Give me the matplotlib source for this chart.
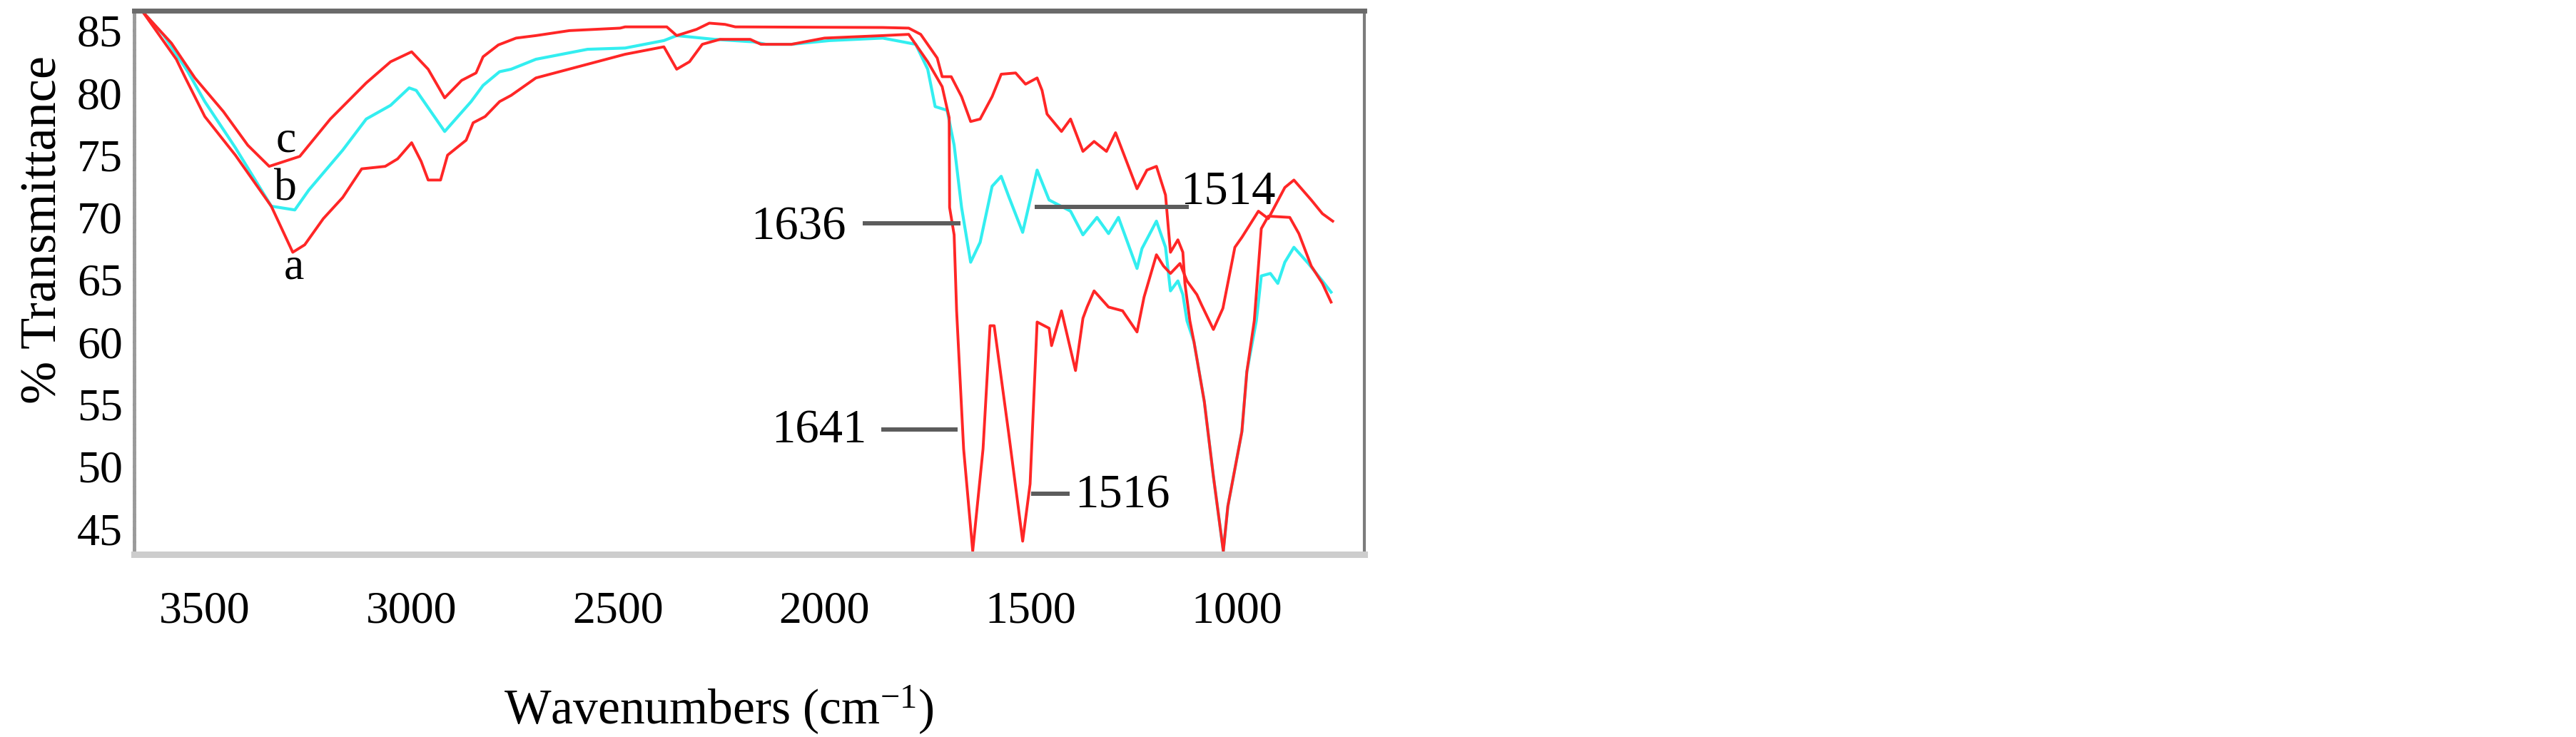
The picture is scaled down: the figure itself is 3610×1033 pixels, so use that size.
import matplotlib
matplotlib.use("Agg")
import matplotlib.pyplot as plt
from matplotlib.ticker import MultipleLocator

# FT-IR spectra, values
# curve a (red, lowest around 3300)
wn_a = [3650, 3569, 3547, 3500, 3426, 3339, 3287, 3258, 3213, 3166, 3120, 3063, 3033,
        2999, 2976, 2959, 2929, 2912, 2867, 2850, 2821, 2786, 2758, 2698, 2573, 2482,
        2388, 2357, 2326, 2295, 2252, 2179, 2153, 2079, 1999, 1858, 1795, 1749, 1714,
        1697, 1696, 1685, 1679, 1662, 1640, 1615, 1598, 1588, 1553, 1519, 1501, 1484,
        1455, 1449, 1425, 1391, 1373, 1363, 1346, 1311, 1277, 1242, 1225, 1195, 1178,
        1161, 1138, 1121, 1097, 1086, 1057, 1034, 1005, 988, 948, 924, 884, 862, 820,
        793, 768]
t_a = [86.5, 82.7, 81.2, 78.1, 75.0, 70.9, 67.2, 67.8, 69.9, 71.6, 73.9, 74.1, 74.7,
       76.0, 74.5, 73.0, 73.0, 75.0, 76.2, 77.6, 78.1, 79.3, 79.8, 81.2, 82.3, 83.1,
       83.7, 81.9, 82.5, 83.9, 84.3, 84.3, 83.9, 83.9, 84.4, 84.6, 84.7, 82.5, 80.5,
       78.0, 70.8, 68.6, 62.5, 51.4, 43.2, 51.4, 61.3, 61.3, 52.7, 44.0, 48.6, 61.6,
       61.1, 59.7, 62.5, 57.7, 61.9, 62.8, 64.1, 62.8, 62.5, 60.8, 63.6, 67.0, 66.1,
       65.5, 66.3, 64.9, 63.8, 63.0, 61.0, 62.7, 67.6, 68.4, 70.5, 69.9, 72.4, 73.0, 71.4,
       70.3, 69.7]

# curve b (cyan)
wn_b = [3650, 3599, 3541, 3500, 3426, 3339, 3282, 3248, 3166, 3109, 3050, 3005, 2988,
        2919, 2855, 2826, 2786, 2758, 2698, 2573, 2482, 2388, 2357, 2266, 2172, 2141,
        2079, 1987, 1858, 1778, 1749, 1731, 1702, 1685, 1667, 1645, 1622, 1593, 1571,
        1553, 1519, 1484, 1455, 1403, 1373, 1339, 1311, 1287, 1242, 1230, 1195, 1173,
        1161, 1143, 1131, 1121, 1104, 1079, 1057, 1033, 1022, 988, 976, 953, 941, 919,
        901, 884, 862, 827, 793, 772]
t_b = [86.5, 84.6, 81.7, 79.3, 75.6, 70.9, 70.6, 72.2, 75.4, 77.9, 79.0, 80.4, 80.2,
       76.9, 79.3, 80.6, 81.7, 81.9, 82.7, 83.5, 83.6, 84.2, 84.6, 84.3, 84.1, 83.9,
       83.9, 84.2, 84.4, 83.9, 81.9, 78.9, 78.6, 75.8, 70.8, 66.4, 68.0, 72.5, 73.3,
       71.7, 68.8, 73.8, 71.4, 70.5, 68.6, 70.0, 68.7, 70.0, 65.9, 67.5, 69.7, 67.6,
       64.1, 64.9, 63.8, 61.7, 60.0, 55.2, 49.2, 43.2, 46.8, 52.8, 57.6, 61.7, 65.3, 65.5,
       64.7, 66.4, 67.6, 66.3, 64.9, 64.0]

# curve c (red, uppermost around 3300)
wn_c = [3650, 3581, 3524, 3455, 3396, 3344, 3270, 3196, 3109, 3050, 2999, 2959, 2919,
        2878, 2843, 2826, 2789, 2746, 2698, 2617, 2494, 2482, 2381, 2357, 2309, 2278,
        2240, 2215, 1858, 1795, 1766, 1726, 1714, 1692, 1667, 1645, 1622, 1593, 1571,
        1536, 1512, 1484, 1472, 1460, 1425, 1403, 1373, 1346, 1316, 1294, 1242, 1218,
        1195, 1173, 1166, 1161, 1143, 1131, 1126, 1114, 1104, 1079, 1057, 1033, 1022,
        988, 976, 958, 941, 924, 872, 850, 820, 793, 772]
t_c = [86.5, 84.0, 81.2, 78.5, 75.8, 74.1, 74.9, 77.9, 80.8, 82.5, 83.3, 81.9, 79.6,
       81.0, 81.6, 82.9, 83.85, 84.4, 84.6, 85.0, 85.2, 85.3, 85.3, 84.6, 85.1, 85.6,
       85.5, 85.3, 85.25, 85.2, 84.7, 82.8, 81.3, 81.3, 79.7, 77.7, 77.9, 79.7, 81.5,
       81.6, 80.7, 81.2, 80.2, 78.3, 76.9, 77.9, 75.3, 76.1, 75.3, 76.8, 72.3, 73.8,
       74.1, 71.8, 69.1, 67.2, 68.2, 67.2, 64.7, 61.7, 60.0, 55.2, 49.2, 43.2, 46.8,
       52.8, 57.6, 61.7, 69.1, 70.1, 70.0, 68.7, 66.1, 64.7, 63.2]

x_ticks = [3500, 3000, 2500, 2000, 1500, 1000]
y_ticks = [45, 50, 55, 60, 65, 70, 75, 80, 85]

red = "#ff2626"
cyan = "#33eef0"
grey = "#5c5c5c"

# 書式設定
plt.rcParams["font.family"] = ["Liberation Serif", "DejaVu Serif"]
plt.rcParams["mathtext.fontset"] = "custom"
plt.rcParams["mathtext.rm"] = "Liberation Serif"
plt.rcParams["mathtext.default"] = "regular"

fig = plt.figure(figsize=(36.1, 10.33), dpi=100)
ax = fig.add_axes([0.0521, 0.2478, 0.4776, 0.7377])

# スペクトル
ax.plot(wn_b, t_b, color=cyan, lw=3.0, solid_joinstyle="round")
ax.plot(wn_a, t_a, color=red, lw=2.8, solid_joinstyle="round")
ax.plot(wn_c, t_c, color=red, lw=2.8, solid_joinstyle="round")

ax.set_xlim(3671, 691)
ax.set_ylim(42.94, 86.6)

# 目盛 (軸線上の小さな点)
ax.set_xticks(x_ticks)
ax.set_yticks(y_ticks)
ax.xaxis.set_minor_locator(MultipleLocator(100))
ax.yaxis.set_minor_locator(MultipleLocator(1))
ax.tick_params(axis="x", which="major", labelsize=46, direction="inout",
               length=3.5, width=3, color="#505050", pad=35)
ax.tick_params(axis="y", which="major", labelsize=46, direction="inout",
               length=3.5, width=3, color="#505050", pad=10)
ax.tick_params(which="minor", direction="inout", length=2.5, width=2.5, color="#707070")

# 枠線
ax.spines["top"].set_color("#6a6a6a")
ax.spines["top"].set_linewidth(5)
ax.spines["right"].set_color("#7c7c7c")
ax.spines["right"].set_linewidth(3)
ax.spines["left"].set_color("#9a9a9a")
ax.spines["left"].set_linewidth(3.5)
ax.spines["left"].set_linestyle((0, (1.2, 0.8)))
ax.spines["bottom"].set_color("#cdcdcd")
ax.spines["bottom"].set_linewidth(6.5)

# 試料ラベル
ax.text(3303, 75.3, "c", fontsize=46, ha="center", va="baseline")
ax.text(3305, 71.4, "b", fontsize=46, ha="center", va="baseline")
ax.text(3284, 65.1, "a", fontsize=46, ha="center", va="baseline")

# ピーク注記
ax.text(2063, 68.24, "1636", fontsize=48, ha="center", va="baseline")
ax.plot([1901, 1674], [69.5, 69.5], color=grey, lw=4.3)
ax.text(1021, 71.10, "1514", fontsize=48, ha="center", va="baseline")
ax.plot([1484, 1121], [70.85, 70.85], color=grey, lw=4.3)
ax.text(2013, 51.91, "1641", fontsize=48, ha="center", va="baseline")
ax.plot([1857, 1681], [52.97, 52.97], color=grey, lw=4.3)
ax.text(1277, 46.69, "1516", fontsize=48, ha="center", va="baseline")
ax.plot([1494, 1411], [47.81, 47.81], color=grey, lw=4.3)

# 軸ラベル
fig.text(61 / 3610, 1 - 322 / 1033, "% Transmittance", rotation=90,
         fontsize=52, ha="center", va="center")
fig.text(1007 / 3610, 1 - 1015 / 1033, r"Wavenumbers (cm$^{-1}$)",
         fontsize=50, ha="center", va="baseline")

plt.savefig("out.png", dpi=100, facecolor="white")
